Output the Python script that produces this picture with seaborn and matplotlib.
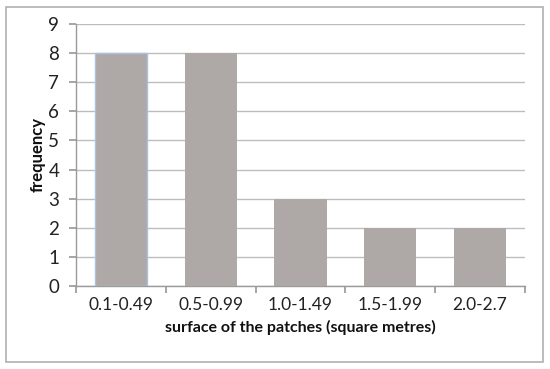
import matplotlib
matplotlib.use("Agg")
import matplotlib.pyplot as plt
import seaborn as sns
import pandas as pd
from matplotlib.patches import Rectangle

categories = ["0.1-0.49", "0.5-0.99", "1.0-1.49", "1.5-1.99", "2.0-2.7"]
frequency = [8, 8, 3, 2, 2]

sns.set_theme(style="white")
plt.rcParams["font.family"] = ["Lato", "DejaVu Sans"]

df = pd.DataFrame({"surface": categories, "frequency": frequency})

fig = plt.figure(figsize=(5.5, 3.69), dpi=100)
ax = fig.add_axes([76 / 550, 1 - 286 / 369, 449 / 550, 262 / 369])

# outer chart border
fig.patches.append(Rectangle((6 / 550, 7 / 369), 537 / 550, 355 / 369,
                             transform=fig.transFigure, fill=False,
                             edgecolor="#b0b0b0", linewidth=1.2))

sns.barplot(data=df, x="surface", y="frequency", color="#aea9a7",
            saturation=1, width=0.58, ax=ax, zorder=3, linewidth=0)
ax.patches[0].set_edgecolor("#a8c4e0")
ax.patches[0].set_linewidth(1)

ax.set_ylim(0, 9)
ax.set_xlim(-0.5, 4.5)
ax.set_yticks(range(10))
ax.yaxis.grid(True, color="#bdbdbd", linewidth=1, zorder=0)
ax.set_axisbelow(True)

for side in ["top", "right"]:
    ax.spines[side].set_visible(False)
for side in ["left", "bottom"]:
    ax.spines[side].set_color("#9a9a9a")
    ax.spines[side].set_linewidth(1)

# x ticks at category boundaries
ax.set_xticks([i - 0.5 for i in range(6)], minor=False)
ax.set_xticklabels([])
ax.set_xticks(range(5), minor=True)
ax.set_xticklabels(categories, minor=True)
ax.tick_params(axis="x", which="major", length=5, color="#9a9a9a", direction="out", bottom=True)
ax.tick_params(axis="x", which="minor", length=0, labelsize=12.5, pad=8, colors="#222222")
ax.tick_params(axis="y", length=5, color="#9a9a9a", direction="out", left=True,
               labelsize=13.5, pad=7, labelcolor="#222222")

ax.set_xlabel("surface of the patches (square metres)", fontsize=11.5,
              fontweight="bold", color="#111111", labelpad=5)
ax.set_ylabel("frequency", fontsize=12, fontweight="bold", color="#111111",
              labelpad=2)

fig.savefig("out.png", dpi=100)
